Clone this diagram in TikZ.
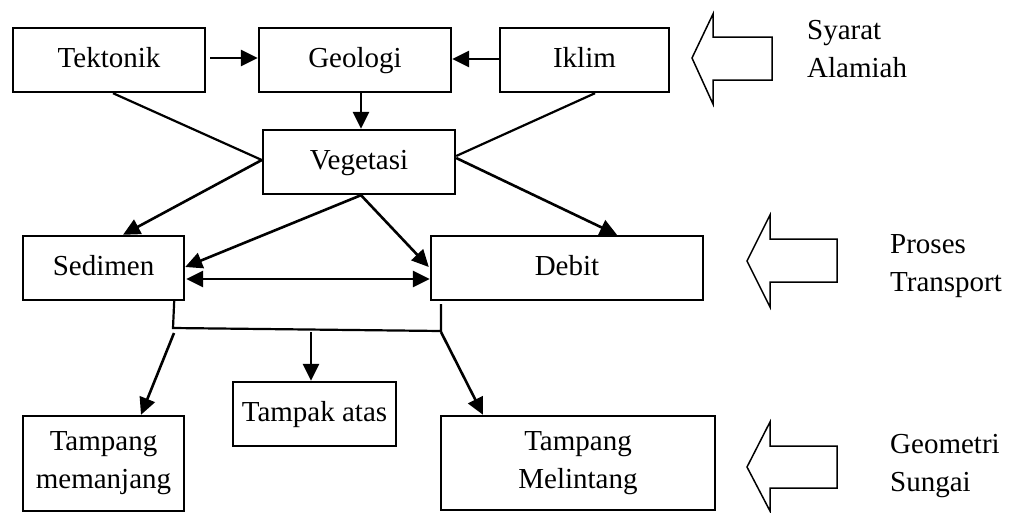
\documentclass[tikz,border=0pt]{standalone}
\usepackage{fontspec}
\setmainfont{Liberation Serif}
\usetikzlibrary{arrows.meta,calc}
\begin{document}
\begin{tikzpicture}[x=1pt,y=-1pt,
  box/.style={draw,line width=2.4pt,inner sep=0pt,align=center,font=\fontsize{29}{38}\selectfont},
  one/.style={text height=20pt,text depth=6pt},
  lbl/.style={inner sep=0pt,align=left,anchor=west,font=\fontsize{29}{38}\selectfont},
  tip/.style={Triangle[length=17pt,width=16pt]},
  arr/.style={line width=2.6pt,-{Triangle[length=17pt,width=16pt]}},
  dbl/.style={line width=2.6pt,{Triangle[length=17pt,width=16pt]}-{Triangle[length=17pt,width=16pt]}},
  ln/.style={line width=2.2pt},
  barrow/.style={draw,line width=1.5pt,line join=miter}]
\useasboundingbox (0,0) rectangle (1013,512);

\node[box,one,minimum width=192pt,minimum height=64pt] (tek) at (109,60) {Tektonik};
\node[box,one,minimum width=192pt,minimum height=64pt] (geo) at (355,60) {Geologi};
\node[box,one,minimum width=169pt,minimum height=64pt] (ikl) at (584.5,60) {Iklim};
\node[box,one,minimum width=192pt,minimum height=64pt] (veg) at (359,162) {Vegetasi};
\node[box,one,minimum width=161pt,minimum height=64pt] (sed) at (103.5,268) {Sedimen};
\node[box,one,minimum width=272pt,minimum height=64pt] (deb) at (567,268) {Debit};
\node[box,minimum width=161pt,minimum height=95pt] (mem) at (103.5,463.5) {Tampang\\memanjang};
\node[box,one,minimum width=163pt,minimum height=64pt] (ata) at (314.5,414) {Tampak atas};
\node[box,minimum width=274pt,minimum height=94pt] (mel) at (578,463) {Tampang\\Melintang};

% top row arrows
\draw[arr] ([xshift=4pt,yshift=2pt]tek.east) -- ([yshift=2pt]geo.west);
\draw[arr] ([yshift=1pt]ikl.west) -- ([yshift=1pt]geo.east);
\draw[arr] ([xshift=6pt]geo.south) -- ([xshift=2pt]veg.north);

% lines into vegetasi
\draw[ln] ([xshift=4pt]tek.south) -- ([yshift=2pt]veg.west);
\draw[ln] ([xshift=10.5pt]ikl.south) -- ([yshift=6pt]veg.east);

% vegetasi to sedimen/debit
\draw[arr] ([yshift=2pt]veg.west) -- ([xshift=19.5pt]sed.north);
\draw[arr] ([yshift=4pt]veg.east) -- ([xshift=50pt]deb.north);
\draw[arr] ([xshift=2pt]veg.south) -- ([yshift=1pt]sed.east);
\draw[arr] ([xshift=2pt]veg.south) -- ([xshift=-1pt,yshift=1pt]deb.west);
\draw[dbl] ([xshift=1pt,yshift=-11pt]sed.east) -- ([yshift=-11pt]deb.west);

% bottom connector
\coordinate (j1) at (173,328);
\coordinate (j2) at (441,331);
\coordinate (j3) at (441,304);
\coordinate (s1) at (174,333);
\coordinate (s2) at (311,332);
\coordinate (s3) at (441,332);
\draw[ln] ([xshift=-11pt]sed.south east) -- (j1) -- (j2) -- (j3);
\draw[arr] (s1) -- ([xshift=37.5pt]mem.north);
\draw[arr] (s2) -- ([xshift=-3.5pt]ata.north);
\draw[arr] (s3) -- ([xshift=-95pt]mel.north);

% block arrows
\draw[barrow] (692,58) -- (713,14) -- (713,37) -- (772,37) -- (772,80) -- (713,80) -- (713,104) -- cycle;
\draw[barrow] (747,261) -- (770,215) -- (770,239) -- (837,239) -- (837,282) -- (770,282) -- (770,307) -- cycle;
\draw[barrow] (747,467) -- (770,422) -- (770,446) -- (837,446) -- (837,488) -- (770,488) -- (770,511) -- cycle;

% labels
\node[lbl] (l1) at (807,49) {Syarat\\Alamiah};
\node[lbl] (l2) at (890,266) {Proses\\Transport};
\node[lbl] (l3) at (890,466) {Geometri\\Sungai};
\end{tikzpicture}
\end{document}
